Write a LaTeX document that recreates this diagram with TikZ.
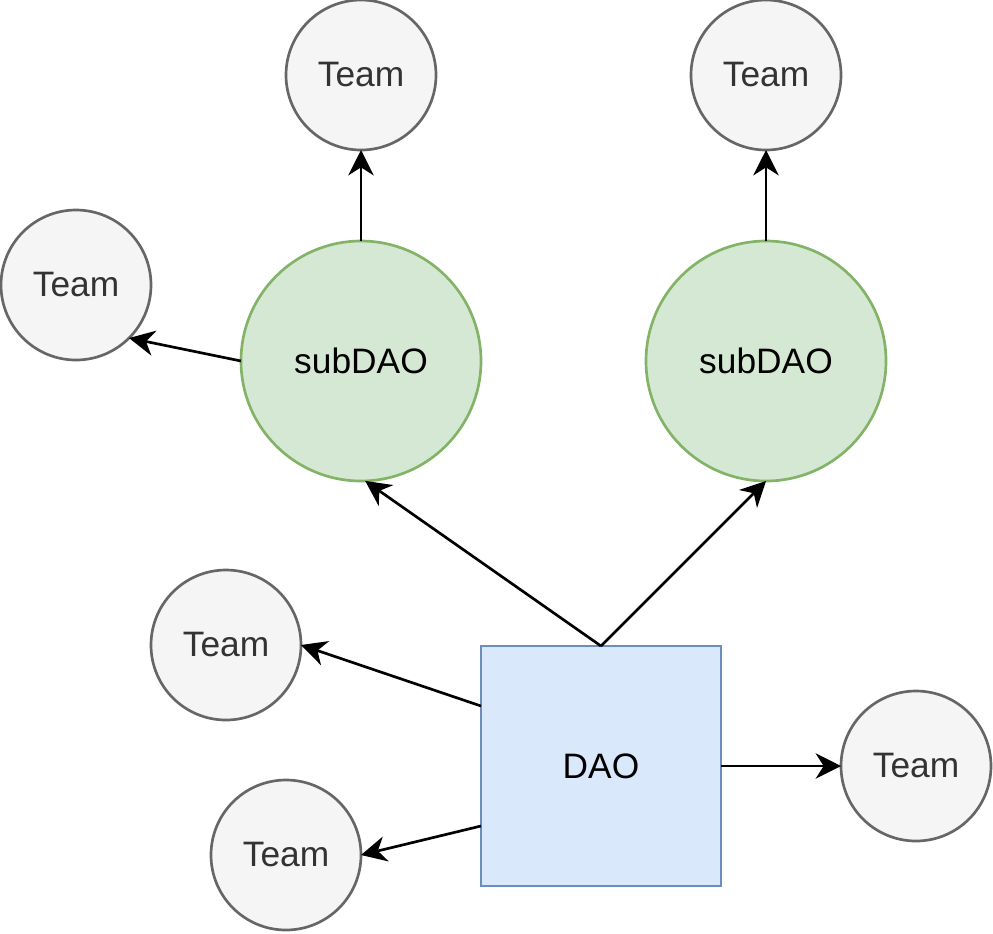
\documentclass[tikz,border=0pt]{standalone}
\usepackage{fontspec}
\setmainfont{Liberation Sans}
\usetikzlibrary{arrows.meta,calc}
\definecolor{teamfill}{HTML}{F5F5F5}
\definecolor{teamline}{HTML}{666666}
\definecolor{teamtext}{HTML}{333333}
\definecolor{subfill}{HTML}{D5E8D4}
\definecolor{subline}{HTML}{82B366}
\definecolor{daofill}{HTML}{DAE8FC}
\definecolor{daoline}{HTML}{6C8EBF}
\begin{document}
\begin{tikzpicture}[x=0.75pt,y=-0.75pt,
  team/.style={circle,draw=teamline,fill=teamfill,line width=2pt,minimum size=112.5pt,inner sep=0pt,outer sep=0pt,text=teamtext,font=\fontsize{26.5pt}{30pt}\selectfont},
  subdao/.style={circle,draw=subline,fill=subfill,line width=2pt,minimum size=180pt,inner sep=0pt,outer sep=0pt,text=black,font=\fontsize{26.5pt}{30pt}\selectfont},
  dao/.style={rectangle,draw=daoline,fill=daofill,line width=2pt,minimum size=180pt,inner sep=0pt,outer sep=0pt,text=black,font=\fontsize{26.5pt}{30pt}\selectfont},
  conn/.style={draw=black,line width=2pt,-{Stealth[length=19pt,width=19pt,inset=6pt]}}]
\useasboundingbox (0,0) rectangle (993,933);
\node[team] (t1) at (361,75) {Team};
\node[team] (t2) at (766,75) {Team};
\node[team] (t3) at (76,285) {Team};
\node[team] (t4) at (226,645) {Team};
\node[team] (t5) at (286,855) {Team};
\node[team] (t6) at (916,766) {Team};
\node[subdao] (s1) at (361,361) {subDAO};
\node[subdao] (s2) at (766,361) {subDAO};
\node[dao] (d) at (601,766) {DAO};
\coordinate (dw1) at ($(d.north west)!0.25!(d.south west)$);
\coordinate (dw2) at ($(d.north west)!0.75!(d.south west)$);
\draw[conn] (s1.north) -- (t1.south);
\draw[conn] (s2.north) -- (t2.south);
\draw[conn] (s1.west) -- (t3.-45);
\draw[conn] (d.north) -- (s1.-88);
\draw[conn] (d.north) -- (s2.south);
\draw[conn] (dw1) -- (t4.east);
\draw[conn] (dw2) -- (t5.east);
\draw[conn] (d.east) -- (t6.west);
\end{tikzpicture}
\end{document}
